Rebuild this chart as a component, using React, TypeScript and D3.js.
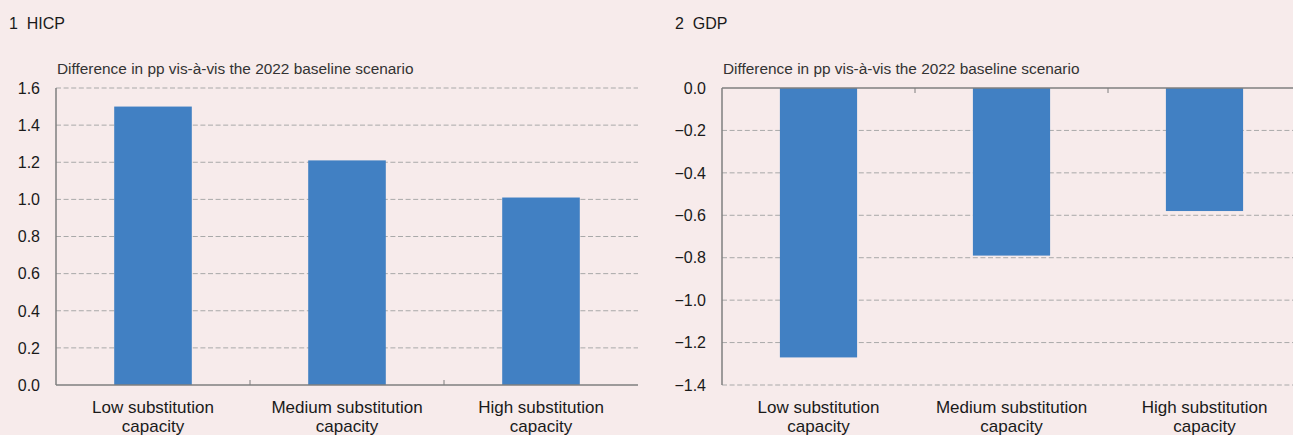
import React from "react";
import * as d3 from "d3";

const categories = ["Low substitution\ncapacity", "Medium substitution\ncapacity", "High substitution\ncapacity"];
const hicpValues = [1.5, 1.21, 1.01];
const gdpValues = [-1.27, -0.79, -0.58];
const hicpTicks = [0, 0.2, 0.4, 0.6, 0.8, 1.0, 1.2, 1.4, 1.6];
const gdpTicks = [-1.4, -1.2, -1.0, -0.8, -0.6, -0.4, -0.2, 0.0];
const panelTitles = ["1  HICP", "2  GDP"];
const subtitle = "Difference in pp vis-à-vis the 2022 baseline scenario";

const W = 1293;
const H = 435;
const BG = "#f7ebeb";
const BAR = "#4180c3";
const GRID = "#a9a9a9";
const AXIS = "#7f7f7f";
const FONT = "'Liberation Sans', Arial, Helvetica, sans-serif";

type PanelProps = {
  title: string;
  values: number[];
  ticks: number[];
  domain: [number, number];
  x0: number;
  x1: number;
  titleX: number;
  negative: boolean;
};

function Panel({ title, values, ticks, domain, x0, x1, titleX, negative }: PanelProps) {
  const top = 88;
  const bottom = 385;
  const y = d3.scaleLinear().domain(domain).range([bottom, top]);
  const xb = d3.scaleBand<string>().domain(categories).range([x0, x1]).paddingInner(0.6).paddingOuter(0.3);
  const xs = d3.scaleBand<string>().domain(categories).range([x0, x1]).padding(0);
  const zeroY = y(0);
  const gridRight = Math.min(x1, W);
  const fmt = d3.format(".1f");
  const bounds = categories.slice(1).map((c) => xs(c) as number);
  return (
    <g>
      <text x={titleX} y={29} fontSize={16} fill="#1a1a1a" style={{ whiteSpace: "pre" }} xmlSpace="preserve">{title}</text>
      <text x={x0 + 1} y={74} fontSize={15.4} fill="#333">{subtitle}</text>
      {ticks.filter((t) => Math.abs(t) > 1e-9).map((t) => (
        <line key={"g" + t} x1={x0} x2={gridRight} y1={y(t)} y2={y(t)} stroke={GRID} strokeWidth={1} strokeDasharray="5,2.6" />
      ))}
      {ticks.map((t) => (
        <text key={"l" + t} x={x0 - 16} y={y(t)} dy="0.36em" textAnchor="end" fontSize={16} fill="#1a1a1a">
          {fmt(t)}
        </text>
      ))}
      {values.map((v, i) => {
        const c = categories[i];
        const yTop = y(Math.max(0, v));
        const yBot = y(Math.min(0, v));
        return <rect key={c} x={xb(c)} y={yTop} width={xb.bandwidth()} height={yBot - yTop} fill={BAR} />;
      })}
      <line x1={x0} x2={gridRight} y1={zeroY} y2={zeroY} stroke={AXIS} strokeWidth={1.5} />
      <line x1={x0} x2={x0} y1={top} y2={bottom} stroke={AXIS} strokeWidth={1.5} />
      {bounds.map((b) => (
        <line key={"t" + b} x1={b} x2={b} y1={zeroY} y2={negative ? zeroY + 5 : zeroY - 5} stroke={AXIS} strokeWidth={1} />
      ))}
      {categories.map((c) => {
        const cx = (xs(c) as number) + xs.bandwidth() / 2;
        const lines = c.split("\n");
        return (
          <text key={"c" + c} x={cx} y={413} textAnchor="middle" fontSize={17} fill="#1a1a1a">
            {lines.map((ln, k) => (
              <tspan key={k} x={cx} dy={k === 0 ? 0 : 19}>{ln}</tspan>
            ))}
          </text>
        );
      })}
    </g>
  );
}

export default function App() {
  return (
    <svg
      width={W}
      height={H}
      style={{ position: "absolute", left: 0, top: 0, background: BG, fontFamily: FONT }}
    >
      <rect x={0} y={0} width={W} height={H} fill={BG} />
      <Panel title={panelTitles[0]} values={hicpValues} ticks={hicpTicks} domain={[0, 1.6]} x0={56} x1={638} titleX={9} negative={false} />
      <Panel title={panelTitles[1]} values={gdpValues} ticks={gdpTicks} domain={[-1.4, 0]} x0={722} x1={1301} titleX={675} negative={true} />
    </svg>
  );
}
